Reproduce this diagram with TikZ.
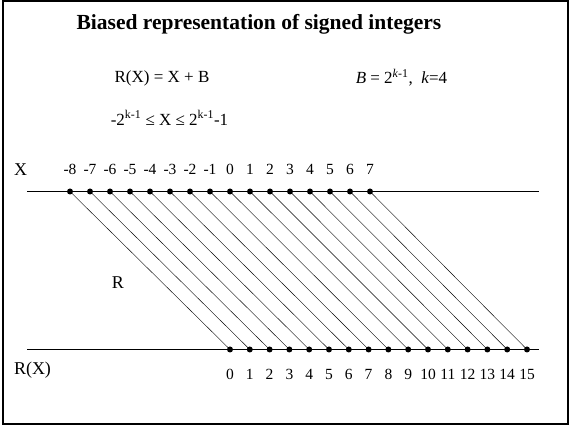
\documentclass[tikz,border=0pt]{standalone}
\usepackage{fontspec}
\setmainfont{Liberation Serif}
\usepackage{tikz}
\usetikzlibrary{positioning}

\begin{document}
\begin{tikzpicture}[x=1pt,y=-1pt,
  dot/.style={circle,fill,inner sep=0pt,minimum size=6pt},
  num/.style={font=\fontsize{15.5}{18}\selectfont,inner sep=0pt,anchor=base},
  txt/.style={font=\fontsize{17}{20}\selectfont,inner sep=0pt}]
\useasboundingbox (0,0) rectangle (571,427);
\draw[line width=2pt] (2.5,1.5) rectangle (567.5,424);
\node[font=\fontsize{21.5}{26}\selectfont\bfseries] (title) at (259,24) {Biased representation of signed integers};
\node[txt] (rx) at (162,78) {R(X) = X + B};
\node[txt] (bias) at (401.5,78) {\textit{B} = 2\textsuperscript{\textit{k}-1}, \ \textit{k}=4};
\node[txt] (range) at (169.5,118) {-2\textsuperscript{k-1} ≤ X ≤ 2\textsuperscript{k-1}-1};
% the two number lines
\draw (27,191.5) -- (539,191.5);
\draw (27,349.5) -- (539,349.5);
\node[txt,font=\fontsize{18}{21}\selectfont] (xlab) at (20.5,169.5) {X};
\node[txt,font=\fontsize{18}{21}\selectfont] (rxlab) at (32.5,370) {R(X)};
\node[txt,font=\fontsize{18}{21}\selectfont] (rlab) at (118,283) {R};
\foreach \i in {-8,...,7} {
  \node[dot] (x\i) at ({70+20*(\i+8)},191.5) {};
  \node[num] (lx\i) at ({70+20*(\i+8)},175) {\i};
}
\foreach \j in {0,...,15} {
  \node[dot] (r\j) at ({230+19.8*\j},349.5) {};
  \node[num] (lr\j) at ({230+19.8*\j},380) {\j};
}
\foreach \i in {-8,...,7} {
  \pgfmathtruncatemacro\j{\i+8}
  \draw (x\i.center) -- (r\j.center);
}
\end{tikzpicture}
\end{document}
